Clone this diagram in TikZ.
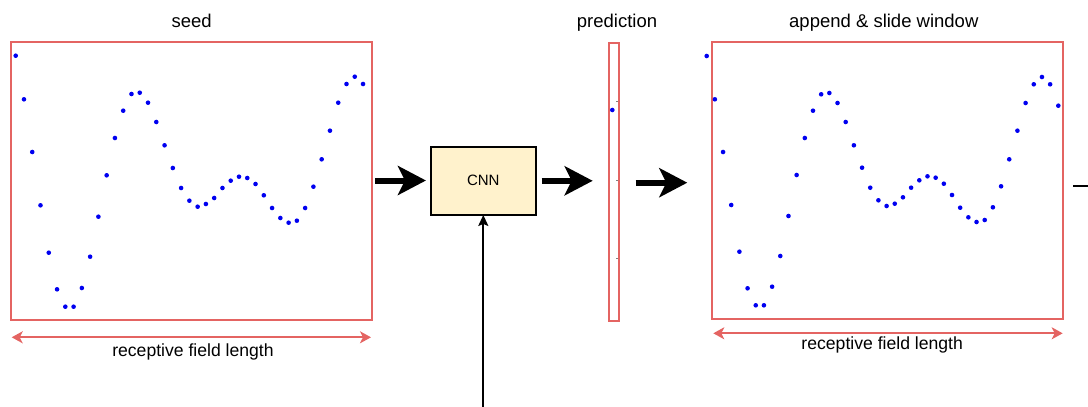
\documentclass[tikz,border=0pt]{standalone}
\usepackage{fontspec}
\setmainfont{Liberation Sans}
\usetikzlibrary{arrows.meta}
\definecolor{redline}{RGB}{228,100,98}
\definecolor{dotblue}{RGB}{0,0,240}
\definecolor{cnnfill}{RGB}{255,242,204}
\begin{document}
\begin{tikzpicture}[x=1pt,y=-1pt,
  panel/.style={draw=redline, line width=2pt, inner sep=0pt, outer sep=0pt},
  cnnbox/.style={draw=black, line width=2pt, fill=cnnfill, inner sep=0pt, outer sep=0pt, font=\fontsize{15}{18}\selectfont},
  bigarrow/.style={line width=6pt, -{Stealth[length=28pt,width=29pt,inset=7pt]}},
  thinarrow/.style={line width=1.8pt, -{Stealth[length=11pt,width=10pt,inset=2pt]}},
  dimarrow/.style={draw=redline, line width=2pt, {Stealth[length=11pt,width=12pt,inset=3pt]}-{Stealth[length=11pt,width=12pt,inset=3pt]}},
  headtxt/.style={font=\fontsize{18.5}{22}\selectfont, inner sep=0pt, anchor=base},
  rfltxt/.style={font=\fontsize{17.6}{21}\selectfont, inner sep=0pt},
  dot/.style={fill=dotblue}
]
\useasboundingbox (0,0) rectangle (1088,407);

% panels
\node[panel, minimum width=361pt, minimum height=278pt] (seed) at (191.5,180.5) {};
\node[panel, minimum width=10.6pt, minimum height=278pt] (pred) at (614,181.7) {};
\node[panel, minimum width=351pt, minimum height=277.3pt] (win) at (887.5,180.4) {};
\node[cnnbox, minimum width=104.7pt, minimum height=68.3pt] (cnn) at (483.3,180.8) {CNN};

% titles
\node[headtxt] (tseed) at (191.7,27) {seed};
\node[headtxt] (tpred) at (617,27) {prediction};
\node[headtxt] (twin) at (883.8,27) {append \& slide window};

% left series
\foreach \yy [count=\i from 0] in {55.7,99.3,152,205.3,252.7,289.3,306.7,306.7,288,256.7,216.7,175.3,138,110.7,94,92.7,102.7,122,145.3,168,188,200.7,206.7,204,198,188,180.7,176.7,178,184,195.3,208,218,222.7,220.7,208,186.7,159.3,130.7,102.7,84,76.7,84}
  \fill[dot] ({15.7+\i*8.27},\yy) circle (2.3pt);

% right series
\foreach \yy [count=\i from 0] in {56,99.3,152,205,251.7,288.3,305.3,305.3,286.7,256,216,175,138,110.7,94.3,93,103,122,145.3,167.7,187.7,200.3,206,203.7,197.3,187.7,180.3,176.3,177.7,183.7,195,207.7,217.3,222,220,207.3,186.3,159.3,130.7,103,84.3,77,84.3,105.7}
  \fill[dot] ({706.7+\i*8.177},\yy) circle (2.3pt);

% prediction dot and ticks
\fill[dot] (612.3,110) circle (2.3pt);
\foreach \t in {101.7,180.7,258.7}
  \draw[gray, line width=0.6pt] (616,\t) -- (618.3,\t);

% big arrows
\draw[bigarrow, shorten <=3pt, shorten >=5pt] (seed.east) -- (seed.east -| cnn.west);
\draw[bigarrow, shorten <=6pt, shorten >=16pt] (cnn.east) -- (cnn.east -| pred.west);
\draw[bigarrow, shorten <=16.4pt, shorten >=24.7pt] ([yshift=-1pt]pred.east) -- ([yshift=-1pt]pred.east -| win.west);

% input arrow from below
\coordinate (vin) at (483.3,409);
\draw[thinarrow] (vin) -- (vin |- cnn.south);

% short line at right edge
\coordinate (ra) at (1073,186);
\coordinate (rb) at (1088,186);
\draw[line width=1.5pt] (ra) -- (rb);

% receptive field arrows
\coordinate (l1a) at (11.7,337.3);
\coordinate (l1b) at (371,337.3);
\draw[dimarrow] (l1a) -- (l1b);
\node[rfltxt] (rfl1) at (193,351.7) {receptive field length};

\coordinate (l2a) at (713.3,333.3);
\coordinate (l2b) at (1062.7,333.3);
\draw[dimarrow] (l2a) -- (l2b);
\node[rfltxt] (rfl2) at (882.2,344.7) {receptive field length};
\end{tikzpicture}
\end{document}
